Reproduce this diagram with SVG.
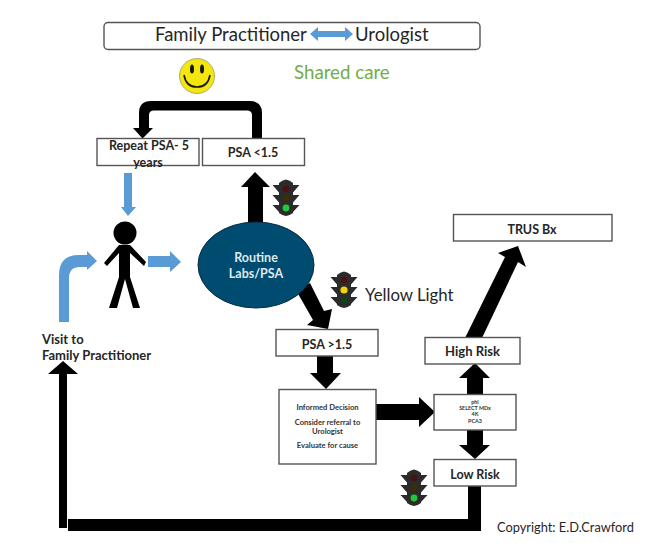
<svg xmlns="http://www.w3.org/2000/svg" width="647" height="543" viewBox="0 0 647 543">
  <style>
    text { font-family: "Lato", "Carlito", "Liberation Sans", sans-serif; fill: #262626; }
    .box { fill: #fff; stroke: #555; stroke-width: 1.4; }
    .lbl { font-weight: 700; font-size: 12.5px; text-anchor: middle; }
    .small { font-weight: 700; font-size: 7.6px; text-anchor: middle; fill: #333; }
    .tiny { font-weight: 700; font-size: 5.4px; text-anchor: middle; fill: #333; }
    .blue { fill: #5b9bd5; }
    .blk { fill: #000; }
    .housing { fill: #2b2b2b; }
  </style>
  <defs>
    <g id="signal">
      <path class="housing" d="M-13.5 -13 L-7 -13 L-7 -15 Q-4 -18 0 -18.500 Q4 -18 7 -15 L7 -13 L13.500 -13 L7 -5.500 L7 -3 L13.500 -3 L7 4.500 L7 7 L13.500 7 L7 14 L7 15 Q3 18 0 18 Q-3 18 -7 15 L-7 14 L-13.500 7 L-7 7 L-7 4.500 L-13.500 -3 L-7 -3 L-7 -5.500 Z"/>
    </g>
  </defs>

  <g id="connectors">
    <path class="blk" d="M252 138 V115 Q252 110.500 247 110.500 H154 Q149 110.500 149 115 V128 H153 L142.500 138.500 L133 128 H139 V113 Q139 101 151 101 H250 Q262 101 262 113 V138 Z"/>
    <path class="blk" d="M248 225 V187 H241 L255 172 L270 187 H263 V225 Z"/>
    <path class="blk" d="M297 292 L310 283 L324 311 L332 309 L328 329 L307 325 L313 320 Z"/>
    <path class="blk" d="M317 356 H333 V373 H341 L326 389 L310 373 H317 Z"/>
    <path class="blk" d="M376 404 H419 V397 L435 412 L419 427 V420 H376 Z"/>
    <path class="blk" d="M467 394 V378 H459 L475 363 L490 378 H483 V394 Z"/>
    <path class="blk" d="M467 430 H483 V445 H490 L475 459 L459 445 H467 Z"/>
    <path class="blk" d="M465 338 L505 257 L498 253 L518 246 L526 267 L518 262 L482 338 Z"/>
    <path class="blk" d="M468 486 H481 V531 H68 V519 H468 Z"/>
    <path class="blk" d="M59 528 V374 H48 L63 361 L78 374 H67 V528 Z"/>
    <path class="blue" d="M124 173 H132 V207 H136 L128 216 L121 207 H124 Z"/>
    <path class="blue" d="M59 322 V275 Q59 255 79 255 H87 V251 L97 261 L87 270 V267 H80 Q69 267 69 278 V322 Z"/>
    <path class="blue" d="M148 256 H170 V251 L181 262 L170 272 V267 H148 Z"/>
  </g>

  <g id="header">
    <rect class="box" x="104" y="22.500" width="376" height="27" rx="4"/>
    <text x="155" y="41" font-size="18.500">Family Practitioner</text>
    <path class="blue" d="M310 34 L318 27 V31 H345 V27 L353 34 L345 41 V37 H318 V41 Z"/>
    <text x="355" y="41" font-size="18.500">Urologist</text>
  </g>

  <g id="smiley">
    <circle cx="197" cy="76" r="17.500" fill="#f4e70f" stroke="#9a9a70" stroke-width="0.8"/>
    <ellipse cx="192" cy="69" rx="2" ry="4.500" fill="#1a1a00"/>
    <ellipse cx="202" cy="69" rx="2" ry="4.500" fill="#1a1a00"/>
    <path d="M184 75 Q186 87 197 87 Q208 87 210 75" fill="none" stroke="#1a1a00" stroke-width="1.600"/>
  </g>

  <g id="shared-care">
    <text x="294" y="79" font-size="18.700" style="fill:#70ad47">Shared care</text>
  </g>

  <g id="repeat-psa">
    <rect class="box" x="97" y="138.500" width="102" height="27"/>
    <text class="lbl" x="149" y="150">Repeat PSA- 5</text>
    <text class="lbl" x="148" y="167">years</text>
  </g>

  <g id="psa-low">
    <rect class="box" x="202.500" y="138.500" width="102" height="27"/>
    <text class="lbl" x="253" y="157">PSA &lt;1.5</text>
  </g>

  <g id="person">
    <circle cx="125" cy="233" r="11.500" fill="#000"/>
    <path d="M119 245 H130 L146 262 L144 266 L130 253 V277 L140 308 H133 L125 279 L117 308 H109 L119 277 V253 L107 266 L104 263 Z" class="blk"/>
  </g>

  <g id="routine-labs">
    <ellipse cx="256" cy="265" rx="58" ry="43" fill="#004b70" stroke="#0a2a40" stroke-width="1"/>
    <text x="256" y="262" font-size="12.500" font-weight="700" text-anchor="middle" style="fill:#dfe8ee">Routine</text>
    <text x="256" y="278" font-size="12.500" font-weight="700" text-anchor="middle" style="fill:#dfe8ee">Labs/PSA</text>
  </g>

  <g id="signal-green-top">
    <use href="#signal" x="286" y="198"/>
    <circle cx="286" cy="189" r="3.200" fill="#4d0f0f"/>
    <circle cx="286" cy="198" r="3.200" fill="#3d3000"/>
    <circle cx="286" cy="208" r="3.400" fill="#22c83c"/>
  </g>

  <g id="signal-yellow">
    <use href="#signal" x="344" y="290"/>
    <circle cx="344" cy="280" r="3.200" fill="#4d0f0f"/>
    <circle cx="344" cy="290" r="3.600" fill="#f2d20a"/>
    <circle cx="344" cy="300" r="3.200" fill="#0b4514"/>
    <text x="365" y="301" font-size="16.800">Yellow Light</text>
  </g>

  <g id="signal-green-bottom">
    <use href="#signal" x="414" y="488"/>
    <circle cx="414" cy="478" r="3.200" fill="#4d0f0f"/>
    <circle cx="414" cy="488" r="3.200" fill="#3d3000"/>
    <circle cx="414" cy="498" r="3.400" fill="#22c83c"/>
  </g>

  <g id="visit">
    <text x="42" y="344" font-size="13" font-weight="700">Visit to</text>
    <text x="42" y="360" font-size="13" font-weight="700">Family Practitioner</text>
  </g>

  <g id="psa-high">
    <rect class="box" x="276" y="329.500" width="102" height="26.500"/>
    <text class="lbl" x="327" y="349">PSA &gt;1.5</text>
  </g>

  <g id="informed-decision">
    <rect class="box" x="279" y="389.500" width="97" height="74.500"/>
    <text class="small" x="327.500" y="410">Informed Decision</text>
    <text class="small" x="327.500" y="425">Consider referral  to</text>
    <text class="small" x="327.500" y="434">Urologist</text>
    <text class="small" x="327.500" y="448">Evaluate for cause</text>
  </g>

  <g id="biomarkers">
    <rect class="box" x="434" y="394.500" width="82" height="35.500"/>
    <text class="tiny" x="475" y="404">phi</text>
    <text class="tiny" x="475" y="410">SELECT MDx</text>
    <text class="tiny" x="475" y="416">4K</text>
    <text class="tiny" x="475" y="423">PCA3</text>
  </g>

  <g id="high-risk">
    <rect class="box" x="425" y="337.500" width="95" height="26.500"/>
    <text class="lbl" x="472.500" y="356" style="font-size:13px">High Risk</text>
  </g>

  <g id="low-risk">
    <rect class="box" x="434" y="459.500" width="82" height="26.500"/>
    <text class="lbl" x="475" y="479">Low Risk</text>
  </g>

  <g id="trus-bx">
    <rect class="box" x="453.500" y="214.500" width="158.500" height="26.500"/>
    <text class="lbl" x="532" y="234">TRUS Bx</text>
  </g>

  <g id="copyright">
    <text x="497" y="532" font-size="12.800">Copyright: E.D.Crawford</text>
  </g>
</svg>
